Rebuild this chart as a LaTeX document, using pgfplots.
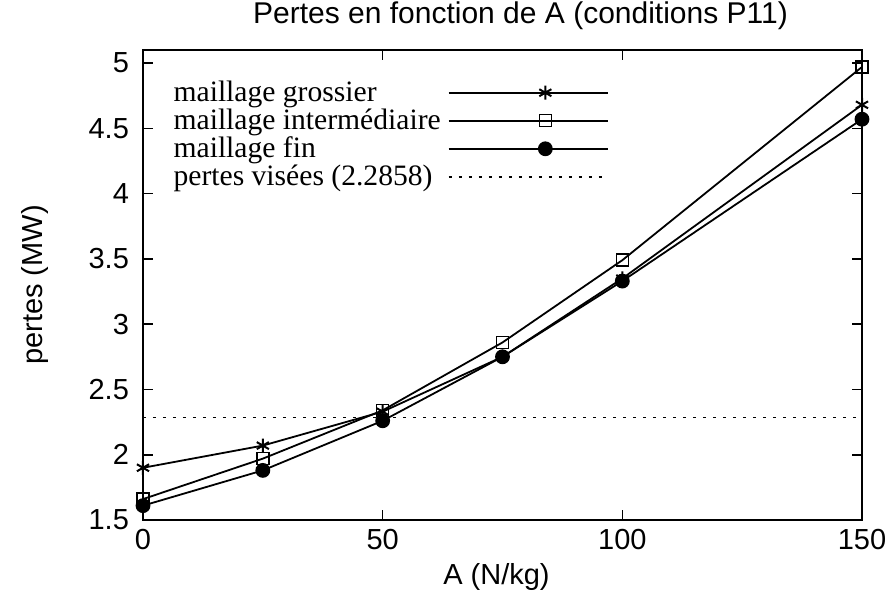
\documentclass[border=0pt]{standalone}
\usepackage{fontspec}
\setmainfont{Liberation Serif}
\setsansfont{Liberation Sans}
\usepackage{pgfplots}
\pgfplotsset{compat=1.18}
\begin{document}
\begin{tikzpicture}
\useasboundingbox (-71.5pt,-37pt) rectangle (373pt,260pt);
\begin{axis}[
  at={(0,0)}, anchor=south west,
  scale only axis,
  width=359.5pt, height=235pt,
  xmin=0, xmax=150, ymin=1.5, ymax=5.1,
  xtick={0,50,100,150},
  ytick={1.5,2,2.5,3,3.5,4,4.5,5},
  /pgf/number format/assume math mode=true,
  tick label style={font=\sffamily\fontsize{14.5}{16}\selectfont},
  yticklabel style={xshift=-3.5pt},
  xticklabel style={yshift=-1pt},
  title={Pertes en fonction de A (conditions P11)},
  title style={font=\sffamily\fontsize{15}{17}\selectfont, at={(axis description cs:0.5,1)}, anchor=base, yshift=7pt, xshift=9pt},
  xlabel={A (N/kg)},
  xlabel style={font=\sffamily\fontsize{14.5}{16}\selectfont, at={(axis description cs:0.5,0)}, anchor=base, yshift=-32pt, xshift=-3pt},
  ylabel={pertes (MW)},
  ylabel style={font=\sffamily\fontsize{14.5}{16}\selectfont, at={(axis description cs:-0.1502,0.5)}, anchor=center},
  axis line style={line width=1.1pt},
  major tick length=5pt,
  every tick/.style={black, line width=0.8pt},
  legend plot pos=right,
  legend cell align=left,
  legend style={draw=none, fill=none, at={(axis description cs:0.042,0.935)}, anchor=north west,
    font=\fontsize{14.8}{15}\selectfont, nodes={inner sep=0pt}, row sep=2.2pt, column sep=3.5pt, inner sep=0pt},
  legend image code/.code={\draw[mark repeat=2,mark phase=2,#1] plot coordinates {(0cm,0cm)(1.7cm,0cm)(2.8cm,0cm)};},
]
\addplot[black, line width=0.9pt, mark=asterisk, mark size=3.5pt, mark options={line width=1pt}]
  coordinates {(0,1.90) (25,2.07) (50,2.33) (75,2.75) (100,3.35) (150,4.68)};
\addlegendentry{maillage grossier}
\addplot[black, line width=0.9pt, mark=square, mark size=3pt, mark options={fill=white, line width=0.8pt}]
  coordinates {(0,1.66) (25,1.97) (50,2.34) (75,2.86) (100,3.49) (150,4.97)};
\addlegendentry{maillage intermédiaire}
\addplot[black, line width=0.9pt, mark=*, mark size=3.25pt]
  coordinates {(0,1.61) (25,1.88) (50,2.26) (75,2.75) (100,3.33) (150,4.57)};
\addlegendentry{maillage fin}
\addplot[black, line width=0.8pt, dash pattern=on 1.5pt off 3.5pt]
  coordinates {(0,2.2858) (150,2.2858)};
\addlegendentry{pertes visées (2.2858)}
\end{axis}
\end{tikzpicture}
\end{document}
